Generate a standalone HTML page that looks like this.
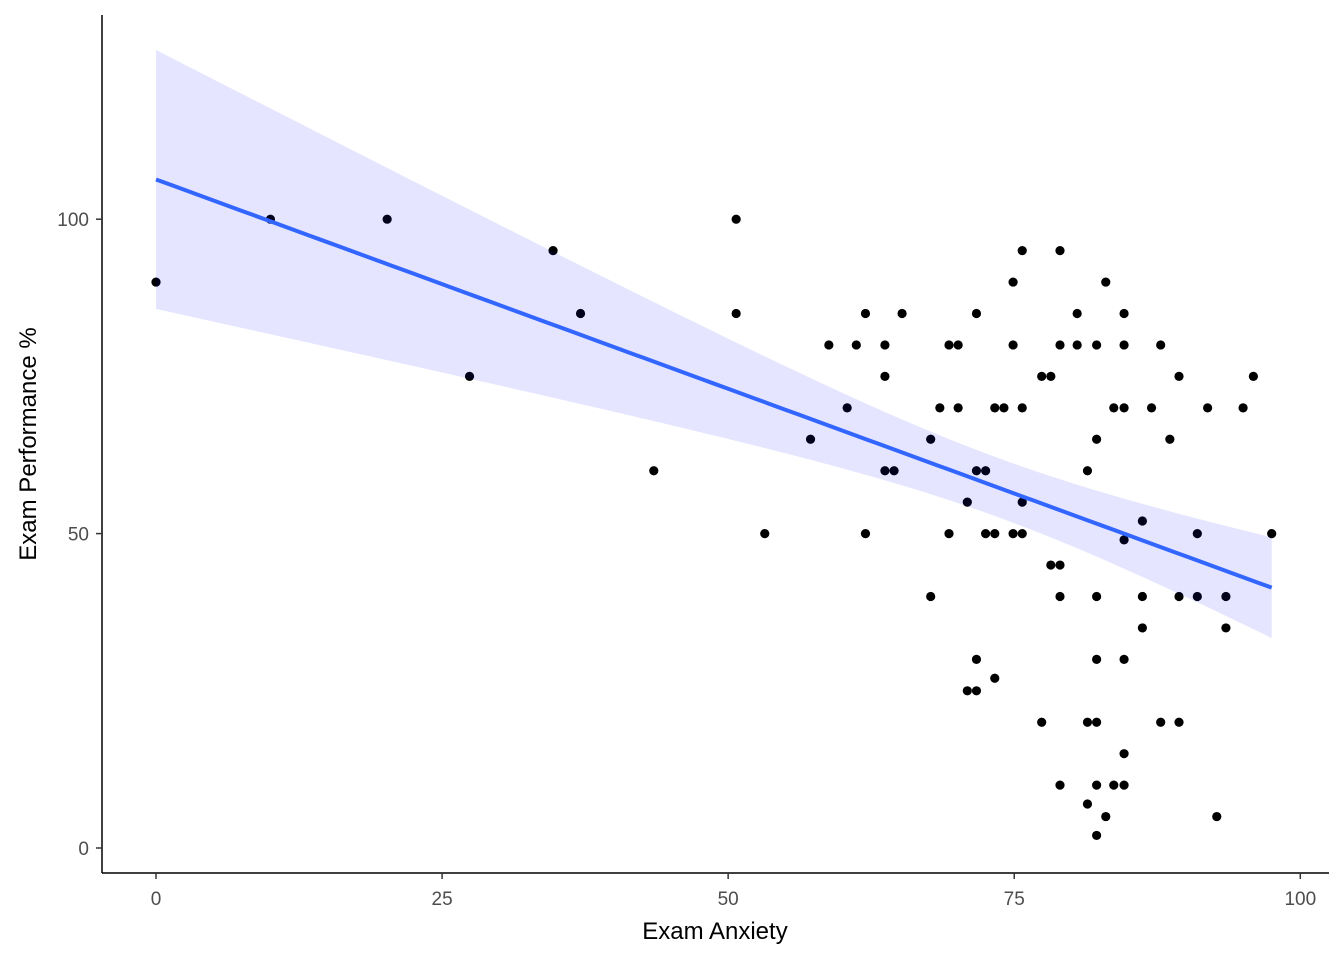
<!DOCTYPE html>
<html><head><meta charset="utf-8"><style>
body{margin:0;background:#fff;}
svg{display:block;font-family:"Liberation Sans",Arial,sans-serif;}
</style></head><body>
<svg id="chart" width="1344" height="960" viewBox="0 0 1344 960">
<g id="pts"></g>
<g id="fit"></g>
<g id="axes"></g>
</svg>
<script>
const anxiety=[0,10,20.2,27.4,34.7,37.1,43.5,50.7,50.7,53.2,57.2,58.8,60.4,61.2,62,62,63.7,63.7,63.7,64.5,65.2,67.7,67.7,68.5,69.3,69.3,70.1,70.1,70.9,70.9,71.7,71.7,71.7,71.7,72.5,72.5,73.3,73.3,73.3,74.1,74.9,74.9,74.9,75.7,75.7,75.7,75.7,77.4,77.4,78.2,78.2,79,79,79,79,79,80.5,80.5,81.4,81.4,81.4,82.2,82.2,82.2,82.2,82.2,82.2,82.2,83,83,83.7,83.7,84.6,84.6,84.6,84.6,84.6,84.6,84.6,86.2,86.2,86.2,87,87.8,87.8,88.6,89.4,89.4,89.4,91,91,91.9,92.7,93.5,93.5,95,95.9,97.5];
const performance=[90,100,100,75,95,85,60,100,85,50,65,80,70,80,85,50,80,75,60,60,85,65,40,70,80,50,80,70,55,25,85,60,30,25,60,50,70,50,27,70,90,80,50,95,70,55,50,75,20,75,45,95,80,45,40,10,85,80,60,20,7,80,65,40,30,20,10,2,90,5,70,10,85,80,70,49,30,15,10,52,40,35,70,80,20,65,75,40,20,50,40,70,5,40,35,70,75,50];
const xTicks=[0,25,50,75,100];
const yTicks=[0,50,100];
const NS='http://www.w3.org/2000/svg';
const X=v=>156+v*11.443, Y=v=>848-v*6.288;
function mk(t,a,p){const e=document.createElementNS(NS,t);for(const k in a)e.setAttribute(k,a[k]);p.appendChild(e);return e;}
const pts=document.getElementById('pts'),fit=document.getElementById('fit'),axes=document.getElementById('axes');
anxiety.forEach((a,i)=>{const c=mk('circle',{cx:X(a),cy:Y(performance[i]),r:4.6,fill:'#000'},pts);

});
// OLS fit with 95% CI
const n=anxiety.length,mx=anxiety.reduce((s,v)=>s+v,0)/n,my=performance.reduce((s,v)=>s+v,0)/n;
let sxx=0,sxy=0;anxiety.forEach((a,i)=>{sxx+=(a-mx)**2;sxy+=(a-mx)*(performance[i]-my);});
const b=sxy/sxx,a0=my-b*mx;let sse=0;anxiety.forEach((a,i)=>{sse+=(performance[i]-a0-b*a)**2;});
const s=Math.sqrt(sse/(n-2)),t=1.985;
const xmin=Math.min(...anxiety),xmax=Math.max(...anxiety);
let up=[],lo=[],ln=[];
for(let k=0;k<=80;k++){const x=xmin+(xmax-xmin)*k/80,yh=a0+b*x,se=t*s*Math.sqrt(1/n+(x-mx)**2/sxx);
up.push(X(x)+','+Y(yh+se));lo.unshift(X(x)+','+Y(yh-se));ln.push(X(x)+','+Y(yh));}
const rib=mk('polygon',{points:up.concat(lo).join(' '),fill:'rgba(0,0,255,0.1)'},fit);


const line=mk('polyline',{points:ln.join(' '),fill:'none',stroke:'#3366FF',"stroke-width":4},fit);


// axes
mk('line',{x1:102,y1:15,x2:102,y2:873,stroke:'#000','stroke-width':1.5},axes);
mk('line',{x1:102,y1:873,x2:1329,y2:873,stroke:'#000','stroke-width':1.5},axes);
xTicks.forEach(v=>{mk('line',{x1:X(v),y1:873,x2:X(v),y2:879,stroke:'#333','stroke-width':1.5},axes);
const tx=mk('text',{x:X(v),y:905,'font-size':19,fill:'#4d4d4d','text-anchor':'middle'},axes);tx.textContent=v;

});
yTicks.forEach(v=>{mk('line',{x1:96,y1:Y(v),x2:102,y2:Y(v),stroke:'#333','stroke-width':1.5},axes);
const tx=mk('text',{x:89,y:Y(v)+7,'font-size':19,fill:'#4d4d4d','text-anchor':'end'},axes);tx.textContent=v;

});
const xt=mk('text',{x:715,y:939,'font-size':24,fill:'#000','text-anchor':'middle'},axes);xt.textContent='Exam Anxiety';


const yt=mk('text',{x:0,y:0,'font-size':24,fill:'#000','text-anchor':'middle',transform:'translate(36,444) rotate(-90)'},axes);yt.textContent='Exam Performance %';


</script>
</body></html>
